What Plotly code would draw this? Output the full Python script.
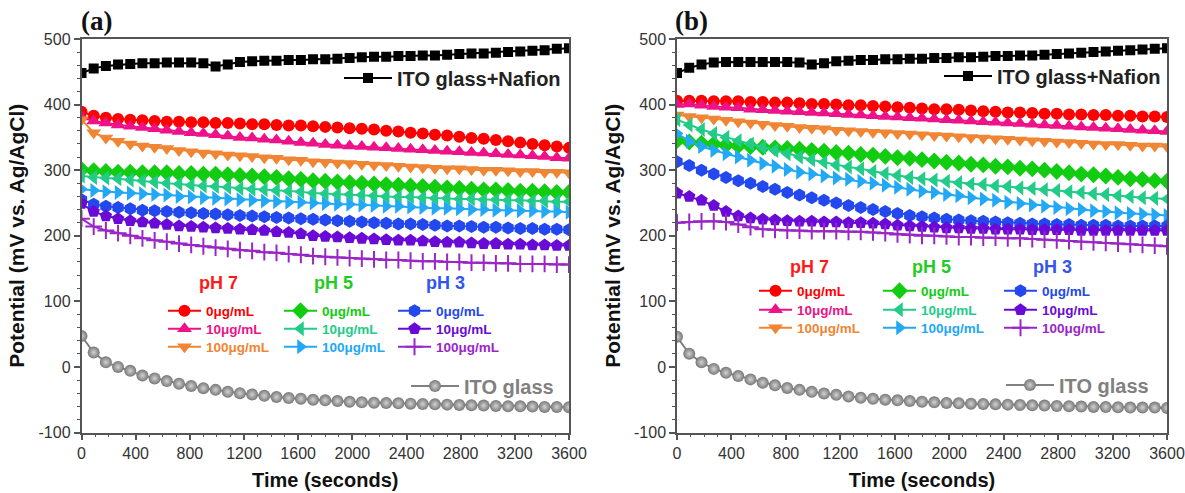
import plotly.graph_objects as go

# Sampling times (s)
time_s = [0, 90, 180, 270, 360, 450, 540, 630, 720, 810, 900, 990, 1080, 1170, 1260,
          1350, 1440, 1530, 1620, 1710, 1800, 1890, 1980, 2070, 2160, 2250, 2340, 2430,
          2520, 2610, 2700, 2790, 2880, 2970, 3060, 3150, 3240, 3330, 3420, 3510, 3600]

# Potential axis ticks
y_tick_vals = [-100, 0, 100, 200, 300, 400, 500]
y_tick_text = ["-100", "0", "100", "200", "300", "400", "500"]

# ---------------- Panel (a) potentials (mV vs. Ag/AgCl) ----------------
a_nafion = [448, 455, 459, 461, 462, 463, 463, 464, 464, 464, 463, 458, 461, 465, 466, 467, 467, 468,
            468, 469, 469, 470, 471, 472, 473, 473, 474, 474, 475, 475, 476, 477, 478, 478, 479, 480,
            481, 482, 483, 485, 486]
a_ph7_0 = [389, 383, 380, 378, 377, 376, 375, 374, 374, 373, 373, 372, 372, 371, 370, 370, 369, 368,
           368, 367, 366, 365, 364, 363, 362, 360, 359, 357, 356, 354, 353, 351, 349, 348, 346, 344,
           342, 340, 338, 336, 334]
a_ph7_10 = [381, 375, 372, 369, 367, 365, 363, 361, 359, 357, 356, 354, 352, 350, 349, 347, 346, 344,
            342, 341, 339, 338, 337, 336, 335, 334, 333, 332, 331, 330, 329, 328, 327, 326, 325, 324,
            323, 322, 321, 319, 318]
a_ph7_100 = [377, 357, 349, 344, 340, 337, 335, 333, 330, 328, 326, 325, 323, 322, 321, 319, 318, 316,
             315, 313, 312, 311, 310, 309, 308, 307, 306, 305, 304, 303, 302, 302, 301, 300, 300, 299,
             298, 298, 297, 297, 296]
a_ph5_0 = [301, 299, 298, 297, 297, 296, 296, 296, 295, 295, 294, 294, 293, 292, 291, 290, 289, 287,
           286, 284, 283, 282, 281, 280, 279, 278, 277, 276, 275, 274, 273, 272, 271, 270, 270, 269,
           268, 268, 267, 266, 266]
a_ph5_10 = [291, 289, 288, 287, 285, 284, 282, 280, 279, 277, 276, 275, 274, 272, 271, 270, 269, 268,
            267, 265, 264, 263, 263, 262, 261, 260, 259, 259, 258, 257, 257, 256, 256, 255, 255, 254,
            254, 253, 253, 252, 252]
a_ph5_100 = [271, 269, 267, 266, 265, 264, 263, 262, 260, 259, 258, 257, 256, 255, 254, 253, 252, 251,
             251, 250, 249, 248, 248, 247, 246, 245, 245, 244, 243, 242, 242, 241, 240, 240, 239, 239,
             238, 238, 237, 237, 236]
a_ph3_0 = [255, 248, 245, 243, 241, 239, 238, 237, 236, 235, 234, 233, 232, 231, 230, 229, 228, 227,
           226, 225, 224, 223, 222, 221, 220, 219, 218, 218, 217, 216, 215, 215, 214, 213, 213, 212,
           211, 211, 210, 210, 209]
a_ph3_10 = [249, 237, 230, 226, 223, 221, 219, 217, 215, 214, 213, 212, 211, 210, 209, 208, 206, 205,
            203, 200, 199, 198, 197, 196, 195, 194, 193, 193, 192, 191, 190, 190, 189, 188, 188, 187,
            187, 186, 186, 185, 185]
a_ph3_100 = [226, 214, 208, 204, 200, 196, 193, 191, 188, 186, 184, 182, 180, 178, 177, 175, 174, 172,
             171, 169, 168, 167, 166, 165, 164, 163, 163, 162, 161, 161, 160, 160, 159, 159, 158, 158,
             157, 157, 157, 156, 156]
a_ito = [47, 22, 7, 0, -6, -13, -17.5, -21.5, -25.5, -29, -32.5, -35, -38, -40, -42, -44, -46, -47.5,
         -48.5, -50, -51, -52, -53, -54, -54.5, -55, -55.5, -56, -56.5, -57, -57.5, -58, -58.5, -59,
         -59.5, -60, -60, -60.5, -61, -61, -61.5]

# ---------------- Panel (b) potentials (mV vs. Ag/AgCl) ----------------
b_nafion = [448, 456, 461, 464, 465, 465, 465, 465, 465, 465, 464, 461, 463, 466, 467, 468, 468, 469,
            469, 470, 470, 471, 471, 472, 472, 473, 474, 474, 475, 475, 476, 477, 478, 479, 480, 481,
            482, 483, 484, 485, 486]
b_ph7_0 = [406, 406, 406, 405, 405, 405, 404, 404, 403, 403, 402, 401, 401, 400, 399, 399, 398, 397,
           396, 395, 394, 393, 393, 392, 391, 390, 389, 388, 388, 387, 386, 386, 385, 385, 384, 384,
           383, 383, 382, 382, 381]
b_ph7_10 = [400, 401, 399, 397, 396, 395, 393, 392, 391, 390, 389, 388, 387, 386, 385, 384, 383, 382,
            381, 380, 379, 378, 377, 376, 375, 374, 373, 372, 371, 370, 369, 368, 367, 366, 365, 364,
            363, 362, 361, 360, 359]
b_ph7_100 = [384, 382, 380, 378, 376, 374, 372, 370, 368, 367, 365, 364, 363, 361, 360, 359, 358, 357,
             356, 355, 354, 353, 352, 351, 350, 349, 348, 347, 346, 345, 344, 343, 342, 341, 340, 339,
             339, 338, 337, 337, 336]
b_ph5_0 = [345, 343, 341, 340, 338, 337, 336, 335, 334, 333, 332, 330, 329, 327, 326, 324, 323, 321,
           319, 318, 316, 314, 312, 311, 309, 308, 306, 305, 303, 302, 300, 298, 296, 294, 293, 291,
           289, 287, 286, 284, 283]
b_ph5_10 = [377, 369, 362, 356, 350, 345, 340, 335, 330, 325, 320, 316, 312, 308, 305, 302, 298, 295,
            292, 289, 287, 285, 283, 281, 279, 278, 276, 275, 273, 272, 270, 269, 267, 266, 264, 263,
            261, 260, 258, 257, 256]
b_ph5_100 = [356, 344, 336, 330, 325, 320, 315, 310, 306, 301, 297, 294, 291, 288, 286, 283, 280, 277,
             274, 271, 268, 266, 263, 261, 258, 256, 254, 251, 249, 247, 245, 243, 241, 240, 238, 237,
             235, 234, 233, 232, 231]
b_ph3_0 = [313, 307, 300, 294, 289, 284, 280, 275, 271, 266, 262, 258, 254, 250, 246, 243, 240, 237,
           234, 231, 229, 227, 225, 224, 223, 222, 221, 220, 219, 218, 218, 217, 217, 216, 216, 216,
           215, 215, 215, 215, 215]
b_ph3_10 = [265, 260, 254, 246, 237, 230, 227, 225, 224, 223, 222, 222, 221, 221, 220, 220, 219, 218,
            216, 215, 214, 213, 212, 212, 211, 211, 210, 210, 210, 209, 209, 209, 209, 208, 208, 208,
            208, 208, 208, 208, 208]
b_ph3_100 = [220, 221, 222, 222, 221, 217, 213, 210, 209, 208, 208, 207, 207, 207, 206, 206, 205, 204,
             202, 201, 200, 200, 199, 198, 198, 197, 197, 196, 196, 195, 194, 193, 192, 191, 190, 189,
             188, 187, 186, 185, 184]
b_ito = [46, 20, 7, -3, -9, -14, -19, -24, -28, -32, -35, -38, -40.5, -42.5, -45, -47, -48.5, -50,
         -51, -52, -53, -54, -55, -55.5, -56, -56.5, -57, -57.5, -58, -58.5, -59, -59.5, -60, -60.5,
         -61, -61, -61.5, -62, -62, -62, -62.5]

# Series styling
conc_labels = ["0μg/mL", "10μg/mL", "100μg/mL"]
ph_titles = ["pH 7", "pH 5", "pH 3"]
ph_title_colors = ["#ff1a1a", "#22cc22", "#3355ee"]
series_colors = [["#ff0000", "#ee1188", "#f08533"],
                 ["#11cc11", "#22cc88", "#22a8f5"],
                 ["#2248ee", "#6a0ad6", "#9a26c8"]]
series_symbols = [["circle", "triangle-up", "triangle-down"],
                  ["diamond", "triangle-left", "triangle-right"],
                  ["hexagon", "pentagon", "cross-thin"]]
series_sizes = [[12, 13, 13], [13, 13, 13], [13, 13, 12]]

panels = {
    "a": {"nafion": a_nafion, "ito": a_ito,
          "ph": [[a_ph7_0, a_ph7_10, a_ph7_100], [a_ph5_0, a_ph5_10, a_ph5_100],
                 [a_ph3_0, a_ph3_10, a_ph3_100]]},
    "b": {"nafion": b_nafion, "ito": b_ito,
          "ph": [[b_ph7_0, b_ph7_10, b_ph7_100], [b_ph5_0, b_ph5_10, b_ph5_100],
                 [b_ph3_0, b_ph3_10, b_ph3_100]]},
}

W, H = 1185, 493
FONT = "Liberation Sans, Arial, sans-serif"
x_domains = {"a": [81.5 / W, 569 / W], "b": [677 / W, 1167 / W]}
y_domain = [1 - 432.5 / H, 1 - 39 / H]

# Legend / label placement in figure pixels (left edge of symbol, vertical centre)
place = {
    "a": {"naf": (339, 78), "ito": (406, 386),
          "col_x": [163, 279, 393], "row_y": [311, 329, 347],
          "titles": [(218, 283), (333, 283), (445, 283)]},
    "b": {"naf": (939, 76), "ito": (1001, 385),
          "col_x": [754, 878, 999], "row_y": [291, 310, 328],
          "titles": [(809, 267), (931, 267), (1052, 267)]},
}


def px(xp, yp):
    return xp / W, 1 - yp / H


fig = go.Figure()
legends = {}
annotations = []
n_leg = 0


def new_legend(xp, yp, font_size, font_color, item_width):
    global n_leg
    n_leg += 1
    lid = "legend" if n_leg == 1 else f"legend{n_leg}"
    lx, ly = px(xp, yp)
    legends[lid] = dict(x=lx, y=ly, xanchor="left", yanchor="middle",
                        bgcolor="rgba(0,0,0,0)", borderwidth=0, itemwidth=item_width,
                        font=dict(family=FONT, size=font_size, color=font_color, weight="bold"))
    return lid


for key, axsuf in (("a", ""), ("b", "2")):
    d = panels[key]
    p = place[key]
    xa, ya = "x" + axsuf, "y" + axsuf

    for i in range(3):
        for j in range(3):
            col = series_colors[i][j]
            sym = series_symbols[i][j]
            lid = new_legend(p["col_x"][i], p["row_y"][j], 13.5, col, 33)
            fig.add_trace(go.Scatter(
                x=time_s, y=d["ph"][i][j], xaxis=xa, yaxis=ya, mode="lines+markers",
                line=dict(color=col, width=2),
                marker=dict(symbol=sym, size=series_sizes[i][j], color=col,
                            line=dict(width=2 if sym == "cross-thin" else 0, color=col)),
                name=conc_labels[j], legend=lid))
        tx, ty = px(*p["titles"][i])
        annotations.append(dict(text=ph_titles[i], x=tx, y=ty, xref="paper", yref="paper",
                                xanchor="center", yanchor="middle", showarrow=False,
                                font=dict(family=FONT, size=18, color=ph_title_colors[i],
                                          weight="bold")))

    lid = new_legend(p["naf"][0], p["naf"][1], 20, "#222222", 48)
    fig.add_trace(go.Scatter(
        x=time_s, y=d["nafion"], xaxis=xa, yaxis=ya, mode="lines+markers",
        line=dict(color="#000000", width=2),
        marker=dict(symbol="square", size=10, color="#000000"),
        name="ITO glass+Nafion", legend=lid))

    lid = new_legend(p["ito"][0], p["ito"][1], 20, "#808080", 48)
    fig.add_trace(go.Scatter(
        x=time_s, y=d["ito"], xaxis=xa, yaxis=ya, mode="lines+markers",
        line=dict(color="#808080", width=2),
        marker=dict(symbol="circle", size=12, color="#777777",
                    gradient=dict(type="radial", color="#d2d2d2")),
        name="ITO glass", legend=lid))

axis_common = dict(showline=True, mirror=True, linecolor="#555555", linewidth=1.5,
                   showgrid=False, zeroline=False, ticks="outside", ticklen=6, tickwidth=1.5,
                   tickcolor="#555555", tickfont=dict(family=FONT, size=16, color="#333333"))

x_common = dict(axis_common, range=[0, 3600], tick0=0, dtick=400,
                minor=dict(dtick=100, ticklen=3, tickwidth=1.2, tickcolor="#555555", ticks="outside"),
                title=dict(text="Time (seconds)", standoff=12,
                           font=dict(family=FONT, size=20, color="#111111", weight="bold")))
y_common = dict(axis_common, range=[-100, 500], tickmode="array",
                tickvals=y_tick_vals, ticktext=y_tick_text,
                minor=dict(tick0=0, dtick=20, ticklen=3, tickwidth=1.2, tickcolor="#555555",
                           ticks="outside"),
                title=dict(text="Potential (mV vs. Ag/AgCl)", standoff=8,
                           font=dict(family=FONT, size=21, color="#111111", weight="bold")))

for lbl, xp in (("(a)", 79), ("(b)", 673)):
    annotations.append(dict(text=f"<b>{lbl}</b>", x=xp / W, y=1 - 4 / H, xref="paper",
                            yref="paper", xanchor="left", yanchor="top", showarrow=False,
                            font=dict(family="Liberation Serif, Times New Roman, serif",
                                      size=27, color="#111111")))

fig.update_layout(
    width=W, height=H, margin=dict(l=0, r=0, t=0, b=0, autoexpand=False),
    paper_bgcolor="white", plot_bgcolor="white", showlegend=True,
    xaxis=dict(x_common, domain=x_domains["a"], anchor="y"),
    yaxis=dict(y_common, domain=y_domain, anchor="x"),
    xaxis2=dict(x_common, domain=x_domains["b"], anchor="y2"),
    yaxis2=dict(y_common, domain=y_domain, anchor="x2"),
    annotations=annotations,
    **legends,
)

fig.write_html("out.html")
